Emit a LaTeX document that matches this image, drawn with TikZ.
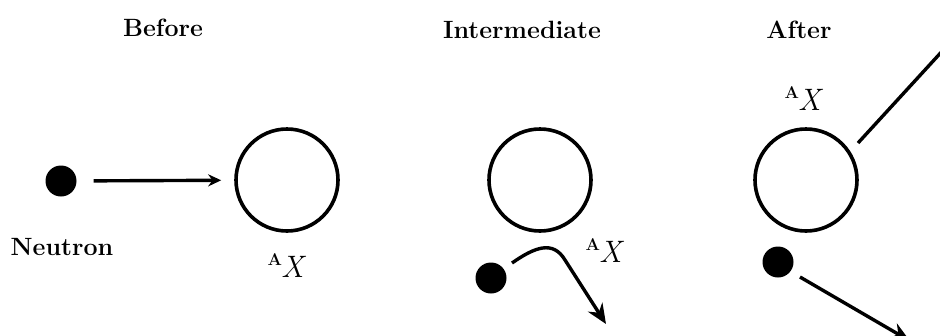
\documentclass[tikz,border=0pt]{standalone}
\usepackage{fontspec}
\usetikzlibrary{arrows.meta}
\newcommand{\isoAX}{\raisebox{12pt}{\fontsize{17}{17}\selectfont\bfseries A}\kern-1pt\textit{X}}
\begin{document}
\begin{tikzpicture}[x=1pt,y=-1pt,
  nucleus/.style={circle,draw,line width=3.6pt,minimum size=102pt,inner sep=0pt},
  neutron/.style={circle,fill,minimum size=31pt,inner sep=0pt},
  title/.style={font=\fontsize{25}{29}\selectfont\bfseries},
  iso/.style={font=\fontsize{31}{34}\selectfont,inner sep=0pt},
  arr/.style={line width=3.4pt,-{Stealth[length=20pt,width=17pt]}},
  ln/.style={line width=3.4pt}]
\useasboundingbox (0,0) rectangle (940,335);
\clip (0,0) rectangle (940,335);
% titles
\node[title] (tb) at (163,28) {Before};
\node[title] (ti) at (522,30) {Intermediate};
\node[title] (ta) at (799,30) {After};
% Before
\node[neutron] (n1) at (61,181) {};
\node[nucleus] (X1) at (287,180) {};
\node[title] (lab) at (62,247) {Neutron};
\node[iso] (i1) at (287,266) {\isoAX};
\draw[arr,-{Stealth[length=13pt,width=12pt]},shorten <=17pt,shorten >=13pt] (n1) -- (X1);
% Intermediate
\node[nucleus] (X2) at (540,180) {};
\node[neutron] (n2) at (491,278) {};
\node[iso] (i2) at (605,251) {\isoAX};
\coordinate (c2s) at (512,263);
\coordinate (c2m) at (565,260);
\coordinate (c2e) at (606,324);
\draw[arr] (c2s) .. controls (535,247) and (553,240) .. (c2m) -- (c2e);
% After
\node[nucleus] (X3) at (806,180) {};
\node[iso] (i3) at (804,99) {\isoAX};
\node[neutron] (n3) at (778,262) {};
\coordinate (c3s) at (858,143);
\coordinate (c3e) at (946,47);
\draw[ln] (c3s) -- (c3e);
\coordinate (c4s) at (800,277);
\coordinate (c4e) at (910,341);
\draw[arr] (c4s) -- (c4e);
\end{tikzpicture}
\end{document}
